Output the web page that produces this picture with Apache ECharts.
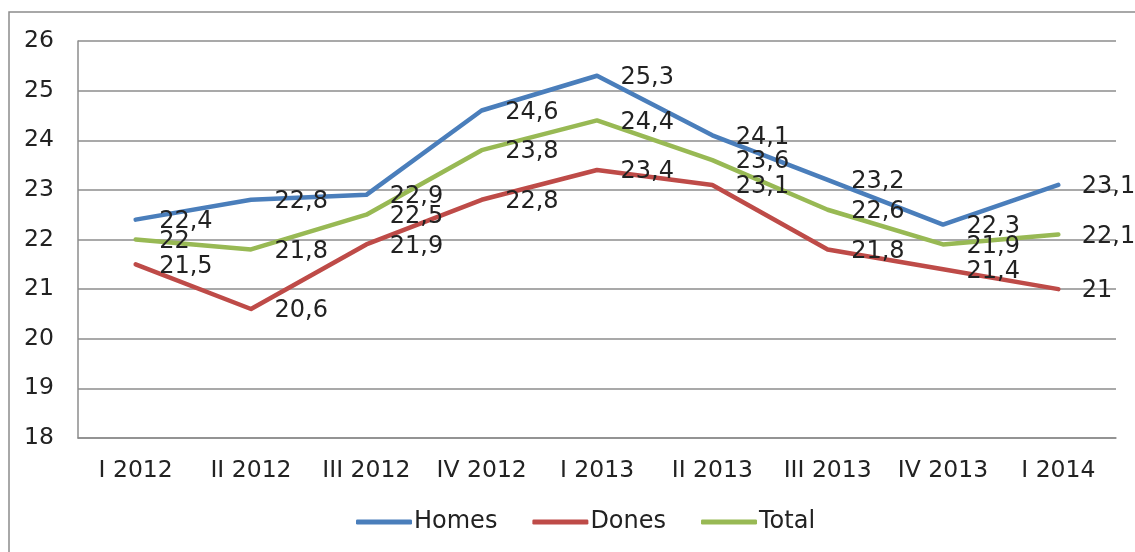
<!DOCTYPE html>
<html><head><meta charset="utf-8">
<script src="https://cdn.jsdelivr.net/npm/echarts@6/dist/echarts.min.js"></script>
<style>html,body{margin:0;padding:0;background:#fff}#c{width:1135px;height:552px}</style>
</head><body><div id="c"></div>
<script>
const categories = ['I 2012','II 2012','III 2012','IV 2012','I 2013','II 2013','III 2013','IV 2013','I 2014'];
const homes = [22.4, 22.8, 22.9, 24.6, 25.3, 24.1, 23.2, 22.3, 23.1];
const dones = [21.5, 20.6, 21.9, 22.8, 23.4, 23.1, 21.8, 21.4, 21];
const total = [22, 21.8, 22.5, 23.8, 24.4, 23.6, 22.6, 21.9, 22.1];
const seriesNames = ['Homes','Dones','Total'];
const colors = ['#4A7EBB','#BE4B48','#98B954'];

const FONT = 'DejaVu Sans';
const TXT = '#222222';
const chart = echarts.init(document.getElementById('c'), null, {renderer:'canvas'});
function mk(name, data, color){
  return {
    name, type:'line', data, symbol:'circle', symbolSize:1, color,
    lineStyle:{width:4.5, color, cap:'round', join:'round'},
    itemStyle:{color},
    label:{show:true, position:'right', distance:23, offset:[0,2], fontFamily:FONT, fontSize:24, color:TXT,
      formatter:p=>String(p.value).replace('.',',')},
    emphasis:{disabled:true}, animation:false
  };
}
chart.setOption({
  animation:false,
  graphic:[{type:'rect', shape:{x:9, y:12, width:1200, height:600}, style:{fill:'none', stroke:'#8c8c8c', lineWidth:1.5}, z:-1}],
  grid:{left:78, right:19, top:41, bottom:114},
  legend:{bottom:13, left:351, icon:'roundRect', itemWidth:56, itemHeight:5, itemGap:35,
    textStyle:{fontFamily:FONT, fontSize:24, color:TXT, padding:[0,0,0,-3]}, data:seriesNames},
  xAxis:{type:'category', data:categories, boundaryGap:true,
    axisLine:{lineStyle:{color:'#8c8c8c', width:1.5}}, axisTick:{show:false},
    axisLabel:{fontFamily:FONT, fontSize:23.5, color:TXT, margin:21, interval:0}},
  yAxis:{type:'value', min:18, max:26, interval:1,
    axisLine:{show:true, lineStyle:{color:'#8c8c8c', width:1.5}}, axisTick:{show:false},
    splitLine:{lineStyle:{color:'#8c8c8c', width:1.5}},
    axisLabel:{fontFamily:FONT, fontSize:23.5, color:TXT, margin:24}},
  series:[mk(seriesNames[0], homes, colors[0]), mk(seriesNames[1], dones, colors[1]), mk(seriesNames[2], total, colors[2])]
});
</script></body></html>
